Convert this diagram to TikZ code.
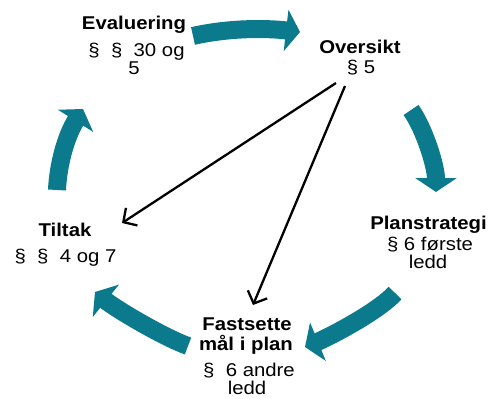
\documentclass[tikz,border=0pt]{standalone}
\usepackage{fontspec}
\setmainfont{Liberation Sans}[FakeStretch=1.1]
\usetikzlibrary{arrows.meta}
\definecolor{tealarrow}{RGB}{10,122,140}
\tikzset{
  lbl/.style={anchor=base,inner sep=0pt,font=\fontsize{18.5}{20}\selectfont},
  ttl/.style={lbl,font=\fontsize{18.5}{20}\selectfont\bfseries},
  cyc/.style={draw=tealarrow,line width=18pt,-{Triangle[length=14pt,width=41pt]},tealarrow},
  lnk/.style={draw=black,line width=2.3pt,-{Straight Barb[length=10pt,width=21pt]}}
}
\begin{document}
\begin{tikzpicture}[x=1pt,y=-1pt]
\useasboundingbox (0,0) rectangle (502,398);
% text
\node[ttl] (evt) at (134,30) {Evaluering};
\node[lbl] (ev1) at (136.5,57) {§\ \ §\ \ 30 og};
\node[lbl] (ev2) at (134,75) {5};
\node[ttl] (ovt) at (360,54) {Oversikt};
\node[lbl] (ov1) at (361,74) {§ 5};
\node[ttl] (plt) at (428.5,229) {Planstrategi};
\node[lbl] (pl1) at (430,250) {§ 6 første};
\node[lbl] (pl2) at (428,268) {ledd};
\node[ttl] (tit) at (65,236) {Tiltak};
\node[lbl] (ti1) at (65.5,262) {§\ \ §\ \ 4 og 7};
\node[ttl] (fat) at (247,330.5) {Fastsette};
\node[ttl] (fa2) at (246,350) {mål i plan};
\node[lbl] (fa3) at (249,376) {§\ \ 6 andre};
\node[lbl] (fa4) at (247,394) {ledd};
% cycle arrows
\coordinate (a1s) at (193,36);  \coordinate (a1e) at (300,32);
\coordinate (a2s) at (411,110); \coordinate (a2e) at (436,192);
\coordinate (a3s) at (395,293); \coordinate (a3e) at (305,347);
\coordinate (a4s) at (188,346); \coordinate (a4e) at (95,292);
\coordinate (a5s) at (57,190);  \coordinate (a5e) at (83,109);
\draw[cyc] (a1s) .. controls (228,28) and (265,28) .. (a1e);
\draw[cyc] (a2s) .. controls (424,128) and (436,166) .. (a2e);
\draw[cyc] (a3s) .. controls (378,312) and (327,338) .. (a3e);
\draw[cyc] (a4s) .. controls (163,337) and (116,309) .. (a4e);
\draw[cyc] (a5s) .. controls (58,165) and (66,136) .. (a5e);
% links
\coordinate (lAs) at (336,83); \coordinate (lAe) at (122,223);
\coordinate (lBs) at (345,86); \coordinate (lBe) at (253,305);
\draw[lnk] (lAs) -- (lAe);
\draw[lnk] (lBs) -- (lBe);
\end{tikzpicture}
\end{document}
